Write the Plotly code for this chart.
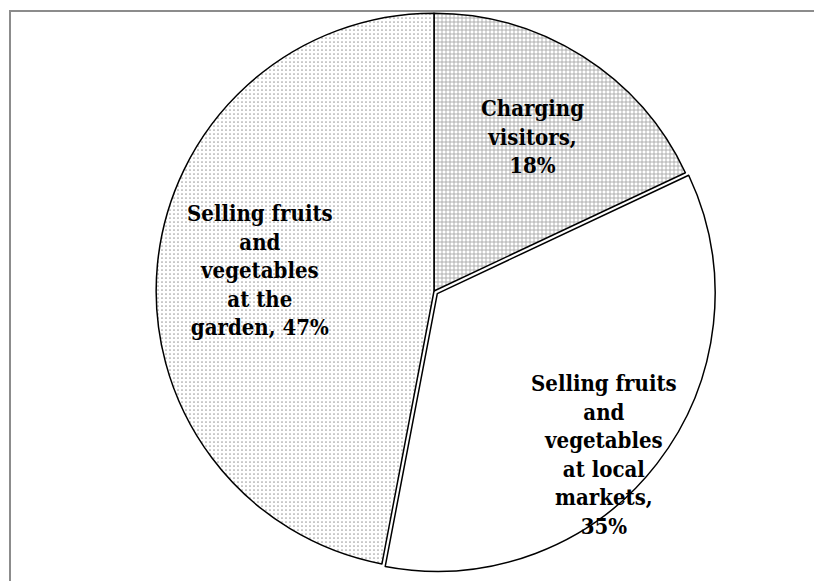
import math
import plotly.graph_objects as go

categories = ["Charging visitors",
              "Selling fruits and vegetables at local markets",
              "Selling fruits and vegetables at the garden"]
values = [18, 35, 47]
label_lines = ["Charging<br>visitors,<br>",
               "Selling fruits<br>and<br>vegetables<br>at local<br>markets,<br>",
               "Selling fruits<br>and<br>vegetables<br>at the<br>garden, "]
pulls = [0, 0.015, 0]

# label placement (fraction of radius, angle offset in degrees)
label_rfrac = [0.66, 0.85, 0.63]
label_dang = [0, 6, 1.5]

texts = [f"{l}{v}%" for l, v in zip(label_lines, values)]

W, H = 814, 581
cx, cy, r = 434, 291, 282
fig = go.Figure(go.Pie(
    labels=categories,
    values=values,
    textinfo="none",
    hoverinfo="label+percent",
    sort=False,
    direction="clockwise",
    rotation=0,
    pull=pulls,
    marker=dict(
        colors=["white", "white", "white"],
        line=dict(color="black", width=1.5),
        pattern=dict(shape=["+", "", "."],
                     fgcolor=["#a8a8a8", "#b0b0b0", "#a0a0a0"],
                     bgcolor="white",
                     size=[4, 4, 4],
                     solidity=[0.4, 0.3, 0.15]),
    ),
    domain=dict(x=[(cx - r) / W, (cx + r) / W],
                y=[1 - (cy + r) / H, 1 - (cy - r) / H]),
    showlegend=False,
))

# labels placed at slice mid-angles
rad = r / (1 + max(pulls))
total = sum(values)
cum = 0
for t, v, f, da in zip(texts, values, label_rfrac, label_dang):
    mid = (cum + v / 2) / total * 360 + da
    cum += v
    px = cx + rad * f * math.sin(math.radians(mid))
    py = cy - rad * f * math.cos(math.radians(mid))
    fig.add_annotation(x=px / W, y=1 - py / H, xref="paper", yref="paper",
                       text=t, showarrow=False, xanchor="center", yanchor="middle",
                       align="center",
                       font=dict(family="DejaVu Serif Condensed, DejaVu Serif", size=22,
                                 color="black", weight="bold"))

fig.add_shape(type="rect", xref="paper", yref="paper",
              x0=10 / W, x1=1.02, y0=-0.02, y1=1 - 11 / H,
              line=dict(color="#8c8c8c", width=2), fillcolor="rgba(0,0,0,0)")

fig.update_layout(width=W, height=H, margin=dict(l=0, r=0, t=0, b=0),
                  paper_bgcolor="white", plot_bgcolor="white")
fig.write_html("out.html")
